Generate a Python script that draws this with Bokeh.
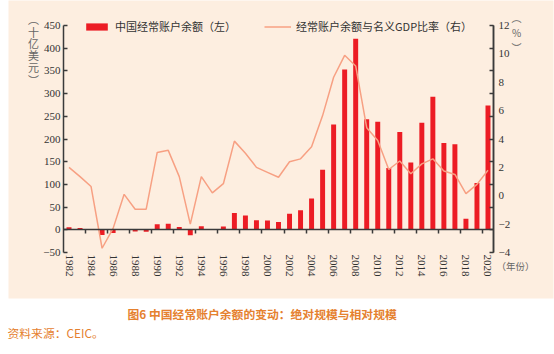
from bokeh.plotting import figure
from bokeh.models import (Range1d, LinearAxis, FixedTicker, Legend, LegendItem,
                          Label, ColumnDataSource, BoxAnnotation)
from bokeh.embed import file_html
from bokeh.resources import INLINE

# ---------------- data ----------------
years = list(range(1982, 2021))
balance = [5.7, 4.2, 2.0, -11.4, -7.0, 0.3, -3.8, -4.3, 12.0, 13.3,
           6.4, -11.9, 7.7, 1.6, 7.2, 37.0, 31.5, 21.1, 20.5, 17.4,
           35.4, 43.1, 68.9, 132.4, 231.8, 353.2, 420.6, 243.3, 237.8, 136.1,
           215.4, 148.2, 236.0, 293.0, 191.3, 188.7, 24.1, 102.9, 274.0]
ratio = [2.0, 1.35, 0.65, -3.7, -2.3, 0.1, -0.95, -0.95, 3.05, 3.2,
         1.35, -2.0, 1.35, 0.2, 0.85, 3.85, 3.0, 2.0, 1.65, 1.3,
         2.4, 2.6, 3.45, 5.65, 8.35, 9.9, 9.15, 4.8, 3.9, 1.85,
         2.45, 1.55, 2.25, 2.6, 1.75, 1.5, 0.15, 0.8, 1.8]
left_ticks = list(range(-50, 451, 50))
right_ticks = list(range(-4, 13, 2))
year_labels = list(range(1982, 2021, 2))
year_marks = [y + 0.5 for y in range(1983, 2020, 2)]
bar_name = "中国经常账户余额（左）"
line_name = "经常账户余额与名义GDP比率（右）"
left_unit = ["︵", "十", "亿", "美", "元", "︶"]
right_unit = ["︵", "%", "︶"]
x_unit = "（年份）"
title = "图6  中国经常账户余额的变动：绝对规模与相对规模"
source_note = "资料来源：CEIC。"

# ---------------- layout (pixels of the 554x354 page) ----------------
W, H = 554, 354
X_LO, X_HI = years[0] - 0.5, years[-1] + 0.5
PX_L, PX_R = 63, 493          # plot area left/right edge
PY_T, PY_B = 25, 252          # top (450 / 12) and bottom (-50 / -4)
L_LO, L_HI = left_ticks[0], left_ticks[-1]
R_LO, R_HI = right_ticks[0], right_ticks[-1]
sx = (PX_R - PX_L) / (X_HI - X_LO)
sy = (PY_B - PY_T) / (L_HI - L_LO)
sr = (PY_B - PY_T) / (R_HI - R_LO)
x_start = X_LO - PX_L / sx
y_top = L_HI + PY_T / sy
r_top = R_HI + PY_T / sr


def X(px):
    return x_start + px / sx


def Y(py):
    return y_top - py / sy


BG = "#fdeee0"
RED = "#ec1c24"
LINE = "#f7a083"
AX = "#3a3a3a"
TXT = "#333333"
GRAY = "#666666"
ORANGE = "#e5812f"
SERIF = "Liberation Serif"
CJK = "Noto Sans CJK SC"

src = ColumnDataSource(dict(year=years, balance=balance, ratio=ratio))

p = figure(width=W, height=H, x_range=Range1d(x_start, X(W)),
           y_range=Range1d(Y(H), y_top), output_backend="svg", toolbar_location=None,
           x_axis_location=None, y_axis_location=None, min_border=0,
           background_fill_color="white", border_fill_color="white",
           outline_line_color=None)
p.grid.visible = False
p.extra_y_ranges = {"pct": Range1d(r_top - H / sr, r_top)}

# beige panel
p.add_layout(BoxAnnotation(left=X(8), right=X(553), top=Y(-2), bottom=Y(298),
                           fill_color=BG, fill_alpha=1, line_color=None,
                           level="underlay"))

# bottom year labels
xa = LinearAxis(ticker=FixedTicker(ticks=year_labels), fixed_location=L_LO,
                bounds=(X_LO, X_HI), major_label_orientation="vertical",
                axis_line_color=None, major_tick_in=0, major_tick_out=0,
                minor_tick_line_color=None, major_label_standoff=2,
                major_label_text_font=SERIF, major_label_text_font_size="11px",
                major_label_text_color=TXT)
p.add_layout(xa, "below")

# zero line with downward ticks
zl = LinearAxis(ticker=FixedTicker(ticks=year_marks), fixed_location=0,
                bounds=(X_LO, X_HI), major_tick_in=4, major_tick_out=0,
                minor_tick_line_color=None, axis_line_color=AX, axis_line_width=1.5,
                major_tick_line_color=AX, major_tick_line_width=1.5,
                major_label_text_color=None)
p.add_layout(zl, "above")

# left axis
ya = LinearAxis(ticker=FixedTicker(ticks=left_ticks), fixed_location=X_LO,
                bounds=(L_LO, L_HI), major_tick_in=4, major_tick_out=0,
                minor_tick_line_color=None, axis_line_color=AX, axis_line_width=1.5,
                major_tick_line_color=AX, major_tick_line_width=1.5,
                major_label_standoff=3, major_label_text_font=SERIF,
                major_label_text_font_size="11px", major_label_text_color=TXT)
ya.major_label_overrides = {v: str(v).replace("-", "\u2212") for v in left_ticks if v < 0}
p.add_layout(ya, "left")

# right axis with labels
ra = LinearAxis(y_range_name="pct", ticker=FixedTicker(ticks=right_ticks),
                fixed_location=X_HI, bounds=(R_LO, R_HI),
                major_tick_in=0, major_tick_out=0, minor_tick_line_color=None,
                axis_line_color=AX, axis_line_width=1.5, major_label_standoff=5,
                major_label_text_font=SERIF, major_label_text_font_size="11px",
                major_label_text_color=TXT)
ra.major_label_overrides = {v: str(v).replace("-", "\u2212") for v in right_ticks if v < 0}
p.add_layout(ra, "right")

# right-side tick marks (aligned with left ticks)
rt = LinearAxis(ticker=FixedTicker(ticks=left_ticks), fixed_location=X_HI,
                bounds=(L_LO, L_HI), major_tick_in=4, major_tick_out=0,
                minor_tick_line_color=None, axis_line_color=AX, axis_line_width=1.5,
                major_tick_line_color=AX, major_tick_line_width=1.5,
                major_label_text_color=None)
p.add_layout(rt, "right")

bars = p.vbar(x="year", top="balance", width=0.45, source=src,
              fill_color=RED, line_color=None)
line = p.line(x="year", y="ratio", y_range_name="pct", source=src,
              line_color=LINE, line_width=1.5)

legend = Legend(items=[LegendItem(label=bar_name, renderers=[bars]),
                       LegendItem(label=line_name, renderers=[line])],
                orientation="horizontal", location=(83, 320),
                glyph_width=27, glyph_height=9, label_height=12,
                label_standoff=5, spacing=28, padding=0, margin=0,
                border_line_color=None, background_fill_alpha=0,
                label_text_font=CJK, label_text_font_size="11px",
                label_text_color=TXT)
p.add_layout(legend, "center")

# unit labels
for ch, py in zip(left_unit, [18, 31, 42, 54, 66, 79]):
    p.add_layout(Label(x=X(33), y=Y(py), text=ch, text_font=CJK,
                       text_font_size="11px", text_color=GRAY,
                       text_align="center", text_baseline="middle"))
for ch, py in zip(right_unit, [17, 32, 47]):
    p.add_layout(Label(x=X(516), y=Y(py), text=ch, text_font=CJK,
                       text_font_size="10px", text_color=GRAY,
                       text_align="center", text_baseline="middle"))
p.add_layout(Label(x=X(496), y=Y(265), text=x_unit, text_font=CJK,
                   text_font_size="9.5px", text_color=GRAY,
                   text_align="left", text_baseline="middle"))

# caption and source
p.add_layout(Label(x=X(263), y=Y(313), text=title, text_font=CJK,
                   text_font_style="bold", text_font_size="11.8px",
                   text_color=ORANGE, text_align="center", text_baseline="middle"))
p.add_layout(Label(x=X(7), y=Y(332), text=source_note, text_font=CJK,
                   text_font_size="11.8px", text_color=ORANGE,
                   text_align="left", text_baseline="middle"))

open("out.html", "w").write(file_html(p, INLINE))
